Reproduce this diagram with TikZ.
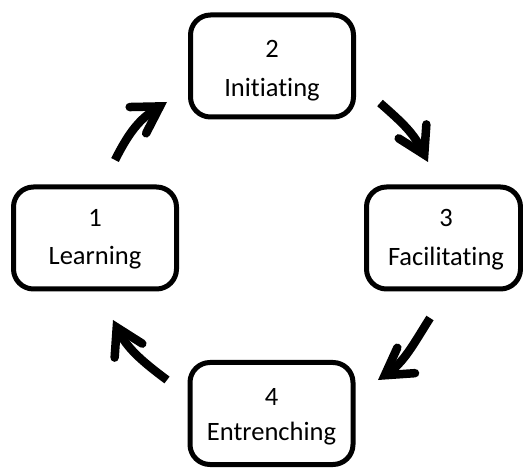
\documentclass[tikz,border=0pt]{standalone}
\usepackage{fontspec}
\setmainfont{Carlito}[Ligatures={NoCommon,NoRequired,NoContextual}]
\usetikzlibrary{arrows.meta}
\begin{document}
\begin{tikzpicture}[x=1pt,y=-1pt,
  box/.style={draw, line width=5pt, rounded corners=20pt, minimum height=102pt, inner sep=0pt},
  lbl/.style={font=\fontsize{26.5}{30}\selectfont, anchor=base, inner sep=0pt},
  cyc/.style={line width=8.5pt, -{Straight Barb[length=26pt,width=31pt,line cap=round]}}]
\useasboundingbox (0,0) rectangle (523,468);
% boxes
\node[box, minimum width=163pt] (b1) at (95,238) {};
\node[box, minimum width=163pt] (b2) at (272,66) {};
\node[box, minimum width=154pt] (b3) at (443.5,238) {};
\node[box, minimum width=163pt] (b4) at (271.5,413.5) {};
% labels
\node[lbl] (n1) at (95,227) {1};
\node[lbl] (t1) at (95,265) {Learning};
\node[lbl] (n2) at (272,58) {2};
\node[lbl] (t2) at (272,97) {Initiating};
\node[lbl] (n3) at (446,227) {3};
\node[lbl] (t3) at (446,266) {Facilitating};
\node[lbl] (n4) at (271.5,405) {4};
\node[lbl] (t4) at (271.5,440) {Entrenching};
% arrow ends
\coordinate (a1s) at (115,160); \coordinate (a1e) at (167,102);
\coordinate (a2s) at (380,103); \coordinate (a2e) at (428,162);
\coordinate (a3s) at (430,318); \coordinate (a3e) at (378,380);
\coordinate (a4s) at (167,380); \coordinate (a4e) at (113,320);
\draw[cyc] (a1s) .. controls (129.4,131.5) and (139.8,119) .. (a1e);
\draw[cyc] (a2s) .. controls (404,124) and (413.6,133.5) .. (a2e);
\draw[cyc] (a3s) .. controls (413,345) and (404.2,361.8) .. (a3e);
\draw[cyc] (a4s) .. controls (141.4,360.8) and (127.4,348.5) .. (a4e);
\end{tikzpicture}
\end{document}
